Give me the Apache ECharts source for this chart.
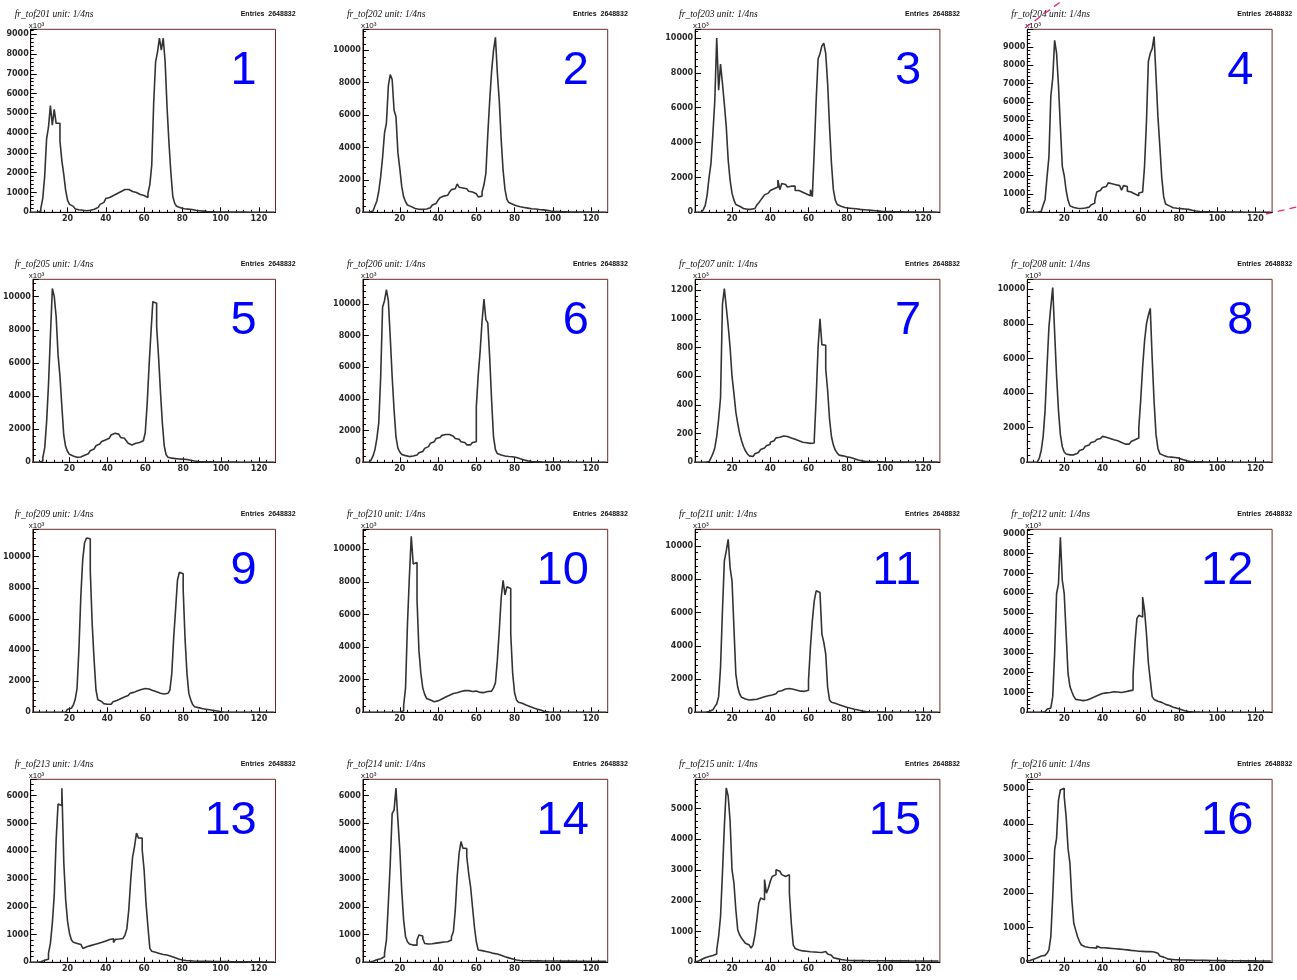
<!DOCTYPE html>
<html><head><meta charset="utf-8">
<script src="https://cdn.jsdelivr.net/npm/echarts@6/dist/echarts.min.js"></script>
<style>html,body{margin:0;padding:0;background:#fff}#c{width:1297px;height:980px}</style>
</head><body><div id="c"></div><script>
// ---- data (bin contents, bins of width 1 starting at 0) ----
const p1 = [0,0,0,0,20,60,200,700,1800,3700, 4300,5400,4400,5200,4500,4500,3600,2600,1900,1100, 600,400,300,220,170,130,110,100,90,80, 90,100,120,150,200,250,300,400,500,600, 700,750,800,850,900,950,1000,1050,1100,1150, 1200,1150,1050,1050,1000,1000,950,900,1000,850, 800,750,950,1400,2400,5500,7600,8100,8800,8200, 8800,7600,5300,3500,2000,800,450,300,230,200, 180,170,160,150,140,120,100,90,80,70, 60,50,40,30,25,20,20,18,16,15, 14,13,12,12,11,10,10,9,9,8, 8,8,7,7,6,6,6,5,5,5, 5,5,4,4,4,4,3,3];
const p2 = [0,0,10,20,40,80,200,400,700,1300, 2200,3400,4900,5500,7800,8500,8200,6300,5900,3700, 2700,1600,950,650,450,350,280,230,200,190, 180,180,190,200,230,280,350,450,550,650, 750,900,1000,1050,1050,1150,1250,1400,1450,1500, 1750,1550,1500,1500,1450,1400,1300,1250,1200,1150, 1050,950,1000,1250,1700,2400,4800,6900,8700,10000, 10800,8600,6900,4500,2600,1400,800,600,500,450, 400,360,340,320,300,280,260,240,220,210, 200,180,170,160,150,140,120,100,80,60, 50,45,40,35,30,28,26,24,22,20, 18,16,15,14,13,12,11,10,10,9, 9,8,8,7,7,6,6,5];
const p3 = [0,0,0,10,50,150,400,1000,2000,2800, 4500,6400,10000,7000,8500,7400,6200,4900,3000,1850, 1100,700,450,350,260,220,190,170,170,170, 180,220,320,420,550,700,850,1000,1100,1200, 1250,1350,1400,1450,1850,1300,1650,1600,1600,1450, 1500,1550,1500,1250,1250,1200,1150,1100,1050,1000, 950,1300,900,3500,6400,8800,9100,9550,9700,9100, 7400,4900,2800,1300,700,450,350,300,280,260, 240,230,220,210,200,180,170,160,150,140, 130,120,110,100,90,80,70,60,50,45, 40,38,36,34,32,30,28,26,24,22, 20,19,18,17,16,15,14,13,12,11, 10,10,9,9,8,8,7,7];
const p4 = [0,0,0,0,0,0,20,60,150,400, 700,1900,3000,6300,7300,9350,8650,6900,4650,2500, 2000,1200,650,350,260,230,220,210,210,220, 230,250,280,320,400,500,650,1100,1200,1300, 1350,1400,1450,1600,1550,1500,1500,1480,1450,1500, 1200,1450,1400,1150,1100,1050,1000,950,900,1050, 1100,1200,2500,4900,8200,8650,8900,9550,7400,5200, 3600,1900,850,450,350,280,250,230,220,210, 200,190,180,170,160,140,110,90,70,50, 40,35,30,28,26,24,22,20,18,16, 15,14,13,12,11,10,10,9,9,8, 8,7,7,6,6,6,5,5,5,5, 4,4,4,4,3,3,3,3];
const p5 = [0,0,0,0,20,80,300,900,2500,4800, 7700,10500,10000,8800,6500,5200,3400,1650,950,650, 480,380,330,300,300,320,370,420,470,520, 600,700,800,900,1000,1100,1200,1250,1350,1400, 1450,1550,1650,1750,1800,1700,1600,1500,1450,1400, 1300,1150,1050,1000,1150,1200,1200,1250,1300,1400, 1800,3500,5800,7800,9700,9600,8200,6400,4300,2400, 1000,450,300,250,230,220,210,200,200,190, 180,170,150,120,100,80,60,50,40,35, 30,28,26,24,22,20,18,16,15,14, 13,12,11,10,10,9,9,8,8,7, 7,7,6,6,6,5,5,5,5,4, 4,4,4,3,3,3,3,3];
const p6 = [0,0,0,0,30,150,400,800,1500,2500, 5400,9800,10200,10900,10200,7900,5400,3300,1600,900, 650,500,420,380,360,370,400,430,460,520, 600,680,780,880,990,1100,1200,1300,1400,1500, 1570,1650,1700,1750,1820,1750,1720,1650,1550,1500, 1450,1350,1300,1250,1150,1100,1100,1200,1250,1300, 3500,5500,7000,8900,10300,9000,8800,6600,3900,1600, 800,550,460,420,400,380,370,360,350,340, 300,260,220,190,150,120,90,70,50,40, 30,28,26,24,22,20,18,16,15,14, 13,12,11,10,10,9,9,8,8,7, 7,7,6,6,6,5,5,5,5,4, 4,4,4,3,3,3,3,3];
const p7 = [0,0,0,0,0,0,0,5,15,30, 60,100,180,300,450,1100,1210,1080,950,800, 600,480,350,270,200,150,110,80,60,45, 40,50,60,70,80,90,100,110,115,125, 140,150,160,170,175,180,183,185,180,175, 170,165,160,155,150,145,140,138,136,134, 132,130,135,155,450,800,1000,820,815,650, 500,300,178,120,85,65,50,45,40,38, 35,33,30,25,20,16,12,10,8,6, 5,5,4,4,4,3,3,3,3,2, 2,2,2,2,2,2,2,2,2,2, 1,1,1,1,1,1,1,1,1,1, 1,1,1,1,1,1,1,1];
const p8 = [0,0,0,0,0,20,80,250,700,1500, 3000,5500,7800,9000,10100,7500,5000,3000,1600,900, 600,480,430,420,430,470,520,600,680,760, 850,930,1000,1080,1150,1200,1260,1320,1380,1450, 1500,1450,1400,1380,1350,1300,1280,1250,1200,1150, 1100,1050,1000,1050,1100,1200,1300,1350,1400,2000, 3600,5500,7000,8000,8500,8900,6000,3500,1600,800, 500,400,350,320,300,300,290,280,260,240, 200,160,120,90,70,50,40,35,30,28, 26,24,22,20,18,16,15,14,13,12, 11,10,10,9,9,8,8,7,7,7, 6,6,6,5,5,5,5,4,4,4, 4,4,3,3,3,3,3,3];
const p9 = [0,0,0,0,0,0,0,0,0,0, 0,0,0,0,0,0,0,0,100,200, 260,350,450,800,1500,4000,7400,9800,10900,11200, 11150,9100,5700,3400,1450,800,700,620,560,520, 480,520,600,680,760,820,870,920,980,1030, 1080,1150,1220,1280,1330,1380,1420,1460,1500,1530, 1540,1500,1450,1400,1350,1320,1280,1230,1200,1180, 1200,1220,1300,1430,2500,4800,6600,8500,9000,8900, 7900,4700,2500,1200,800,500,360,300,260,240, 220,200,180,160,140,120,110,80,50,30, 10,8,6,5,4,4,3,3,3,2, 2,2,2,2,2,2,1,1,1,1, 1,1,1,1,1,1,1,1];
const p10 = [0,0,0,0,0,0,0,0,0,0, 0,0,0,0,0,0,0,0,0,0, 30,100,400,1500,5400,8300,10800,9100,9200,6900, 3800,2400,1500,1100,850,750,680,650,660,700, 760,820,880,940,1000,1050,1100,1150,1180,1200, 1250,1280,1300,1330,1350,1330,1300,1280,1250,1300, 1250,1220,1200,1210,1250,1280,1270,1300,1350,1500, 1800,3200,5000,7000,8100,7200,7700,7600,4800,2400, 1200,760,620,560,510,450,400,350,300,260, 220,190,160,120,80,40,20,10,5,5, 4,4,3,3,3,3,2,2,2,2, 2,2,2,2,1,1,1,1,1,1, 1,1,1,1,1,1,1,1];
const p11 = [0,0,0,0,0,0,0,50,100,150, 250,340,500,940,2700,6100,9100,9700,10400,8700, 7900,5100,2300,1500,1100,900,800,750,740,750, 760,770,780,820,860,900,940,980,1000,1020, 1040,1080,1120,1180,1250,1300,1370,1400,1420,1430, 1400,1380,1350,1330,1300,1270,1240,1260,1300,1330, 1930,3900,5500,6700,7300,7200,7100,4700,4200,3500, 1500,740,600,540,500,460,420,380,340,300, 270,240,210,180,160,140,110,80,60,40, 30,25,20,18,16,14,12,10,9,8, 7,7,6,6,5,5,5,4,4,4, 4,3,3,3,3,3,2,2,2,2, 2,2,2,2,2,1,1,1];
const p12 = [0,0,0,0,0,0,0,0,0,30, 80,150,220,300,790,2960,5980,6480,8830,6650, 5980,3970,1960,1300,1040,800,650,620,600,590, 600,620,650,700,740,790,830,870,920,950, 970,980,990,1000,1020,1040,1000,1020,990,1000, 1050,1040,1060,1080,1100,1120,1880,3500,4720,4890, 4800,5810,5140,3970,2500,1620,790,650,560,540, 500,450,400,370,340,300,260,230,200,170, 140,110,80,60,40,30,20,15,10,8, 7,6,6,5,5,5,4,4,4,4, 3,3,3,3,3,3,2,2,2,2, 2,2,2,2,2,2,1,1,1,1, 1,1,1,1,1,1,1,1];
const p13 = [0,0,0,0,0,20,50,70,90,110, 320,680,1400,2400,4400,5700,5650,6270,3600,2240, 1460,1040,800,720,680,660,640,620,500,560, 580,600,620,640,660,680,700,720,740,770, 800,820,840,850,710,830,840,850,860,880, 980,1220,1900,2970,3800,4170,4650,4480,4470,4050, 3330,2120,1280,500,400,360,340,320,300,280, 270,260,240,220,200,170,140,120,100,80, 70,65,60,55,50,45,42,40,38,36, 35,34,33,32,31,30,30,29,28,27, 26,25,25,24,23,22,22,21,20,20, 19,18,18,17,17,16,16,15,15,14, 14,13,13,12,12,12,11,11];
const p14 = [0,0,0,0,20,40,60,90,110,130, 145,200,320,800,2120,3560,5360,5480,6270,5120, 4050,2600,1520,920,740,660,620,610,620,800, 980,950,860,680,660,660,670,680,690,700, 710,720,730,740,740,740,800,920,1100,1880, 3090,3920,4350,4110,4100,3810,3200,2720,2000,1280, 740,440,420,400,390,380,360,340,320,310, 300,280,250,220,200,180,160,140,120,100, 80,70,65,60,58,56,55,54,53,52, 51,50,50,49,49,48,48,47,47,46, 46,45,45,44,44,43,43,42,42,41, 41,40,40,40,39,39,38,38,38,37, 37,36,36,36,35,35,35,34];
const p15 = [0,30,60,90,120,150,170,190,200,220, 250,270,400,840,1490,2900,4420,5670,5400,4590, 3010,2580,1710,1050,890,780,700,620,560,510, 460,570,890,1380,1920,2090,2030,2690,2250,2410, 2630,2790,2850,3010,2960,2900,2850,2790,2800,2850, 2250,1270,570,450,400,380,370,360,360,350, 345,340,335,330,325,320,320,330,350,300, 270,230,185,150,120,100,90,80,75,70, 65,60,58,56,55,55,54,54,53,53, 52,52,51,51,50,50,50,49,49,48, 48,48,47,47,47,46,46,46,45,45, 45,45,44,44,44,44,43,43,43,43, 42,42,42,42,41,41,41,41];
const p16 = [40,50,70,90,110,130,160,180,190,200, 210,260,360,740,1900,3250,3580,4690,4980,5030, 4790,4210,3290,2860,1800,1130,930,740,600,500, 450,440,430,430,420,420,410,470,420,410, 420,420,410,405,400,395,390,385,380,375, 370,365,360,350,345,340,335,330,320,315, 315,310,310,310,310,305,300,280,260,220, 180,150,115,100,90,85,80,75,70,70, 70,68,66,65,64,63,62,61,60,60, 59,58,57,56,55,54,53,52,51,50, 50,49,48,48,47,46,46,45,45,44, 44,43,43,42,42,41,41,41,40,40, 40,39,39,39,38,38,38,38];

const histograms = [p1,p2,p3,p4,p5,p6,p7,p8,p9,p10,p11,p12,p13,p14,p15,p16];
const channelNames = ['fr_tof201','fr_tof202','fr_tof203','fr_tof204','fr_tof205','fr_tof206','fr_tof207','fr_tof208',
                      'fr_tof209','fr_tof210','fr_tof211','fr_tof212','fr_tof213','fr_tof214','fr_tof215','fr_tof216'];
const unitText = 'unit: 1/4ns';
const entriesText = 'Entries  2648832';
const panelLabels = ['1','2','3','4','5','6','7','8','9','10','11','12','13','14','15','16'];
const yMax  = [9250, 11300, 10500, 9950, 11050, 11550, 1275, 10580, 11760, 11230, 11000, 9230, 6590, 6590, 5950, 5290];
const yStep = [1000, 2000, 2000, 1000, 2000, 2000, 200, 2000, 2000, 2000, 2000, 1000, 1000, 1000, 1000, 1000];
const xTickLabels = [20, 40, 60, 80, 100, 120];
const xMin = 0.7, xMax = 128.7;

// ---- layout ----
const PL = 30.7, PDX = 332.2, PT = 29.3, PDY = 250, PW = 244.8, PH = 183;
const xMinor = [];
for (let v = 4; v < 128; v += 4) if (v % 20 !== 0) xMinor.push(v);

const grids = [], xAxes = [], yAxes = [], series = [], graphics = [];
const labelFont = {fontFamily: 'DejaVu Sans', fontSize: 8, fontWeight: 'bold', color: '#2a2a2a'};
const plain = v => String(v);

histograms.forEach((h, k) => {
  const c = k % 4, r = Math.floor(k / 4);
  const left = PL + PDX * c, top = PT + PDY * r;
  grids.push({left, top, width: PW, height: PH, show: true, borderColor: '#6e2a22', borderWidth: 1, backgroundColor: 'rgba(0,0,0,0)'});
  xAxes.push({
    gridIndex: k, type: 'value', min: xMin, max: xMax, position: 'bottom',
    axisLine: {onZero: false, lineStyle: {color: '#000', width: 1}},
    axisTick: {inside: true, length: 5, customValues: xTickLabels, lineStyle: {color: '#000'}},
    axisLabel: Object.assign({customValues: xTickLabels, margin: 3, formatter: plain}, labelFont),
    splitLine: {show: false}
  });
  xAxes.push({
    gridIndex: k, type: 'value', min: xMin, max: xMax, position: 'bottom',
    axisLine: {show: false}, axisLabel: {show: false}, splitLine: {show: false},
    axisTick: {inside: true, length: 2.5, customValues: xMinor, lineStyle: {color: '#000'}}
  });
  yAxes.push({
    gridIndex: k, type: 'value', min: 0, max: yMax[k], interval: yStep[k],
    axisLine: {show: true, onZero: false, lineStyle: {color: '#000', width: 1}},
    axisTick: {inside: true, length: 6, lineStyle: {color: '#000'}},
    minorTick: {show: true, splitNumber: 5, length: 3, lineStyle: {color: '#000'}},
    axisLabel: Object.assign({showMaxLabel: false, margin: 2, formatter: plain}, labelFont),
    splitLine: {show: false}, minorSplitLine: {show: false}
  });
  const data = h.map((v, i) => [i, v]);
  data.push([h.length, h[h.length - 1]]);
  series.push({
    type: 'line', xAxisIndex: 2 * k, yAxisIndex: k, step: 'end', symbol: 'none',
    data, lineStyle: {color: '#333', width: 1.6}, silent: true, animation: false
  });
  graphics.push({type: 'text', x: left - 16, y: top - 15,
    style: {text: channelNames[k] + ' ' + unitText, font: 'italic 9.5px "Liberation Serif"', fill: '#111', verticalAlign: 'middle'}});
  graphics.push({type: 'text', x: left + 210, y: top - 15,
    style: {text: entriesText, font: 'bold 7px "Liberation Sans"', fill: '#111', verticalAlign: 'middle'}});
  graphics.push({type: 'text', x: left - 2, y: top - 4,
    style: {text: 'x10\u00b3', font: '8px "Liberation Sans"', fill: '#111', verticalAlign: 'middle'}});
  graphics.push({type: 'text', x: left + 226, y: top + 42,
    style: {text: panelLabels[k], font: '47px "Liberation Sans"', fill: '#0000ff', align: 'right', verticalAlign: 'middle'}});
});

// selection marks (dashed magenta) around panel 4
graphics.push({type: 'line', shape: {x1: 1025, y1: 28, x2: 1063, y2: 0}, style: {stroke: '#e0307a', lineWidth: 1.3, lineDash: [7, 5]}});
graphics.push({type: 'line', shape: {x1: 1266, y1: 214, x2: 1297, y2: 207}, style: {stroke: '#e0307a', lineWidth: 1.3, lineDash: [7, 5]}});

const chart = echarts.init(document.getElementById('c'), null, {renderer: 'canvas'});
chart.setOption({
  backgroundColor: '#fff', animation: false,
  grid: grids, xAxis: xAxes, yAxis: yAxes, series, graphic: graphics
});
</script></body></html>
